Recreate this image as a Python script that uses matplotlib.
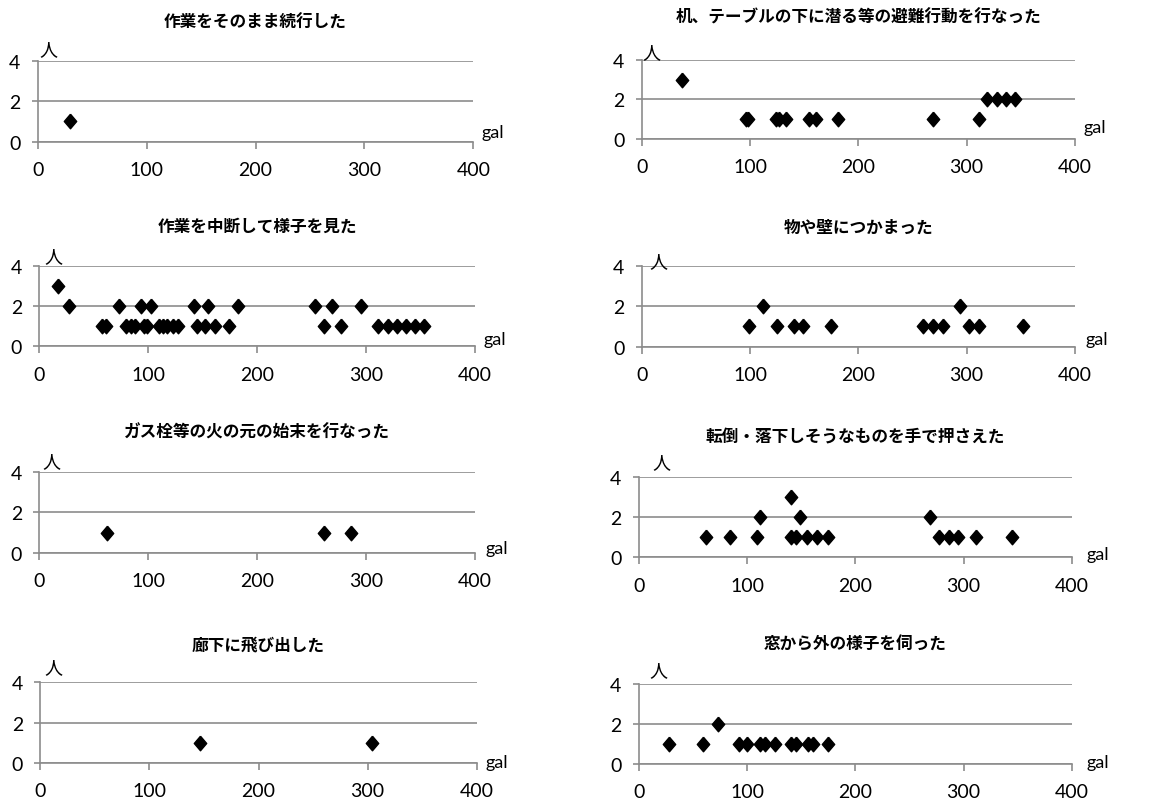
import matplotlib.pyplot as plt
from matplotlib.path import Path

# 行動別：最大加速度(gal)ごとの人数
titles = [
    '作業をそのまま続行した',
    '机、テーブルの下に潜る等の避難行動を行なった',
    '作業を中断して様子を見た',
    '物や壁につかまった',
    'ガス栓等の火の元の始末を行なった',
    '転倒・落下しそうなものを手で押さえた',
    '廊下に飛び出した',
    '窓から外の様子を伺った',
]

gal_1 = [30]
cnt_1 = [1]

gal_2 = [37, 96, 98, 124, 127, 133, 154, 161, 181, 269, 311, 319, 328, 336, 345]
cnt_2 = [3, 1, 1, 1, 1, 1, 1, 1, 1, 1, 1, 2, 2, 2, 2]

gal_3 = [17, 27, 73, 93, 103, 142, 155, 182, 253, 269, 295,
         58, 61, 80, 84, 88, 96, 99, 110, 114, 117, 123, 127, 145, 152, 161, 174,
         261, 277, 311, 320, 328, 337, 345, 353]
cnt_3 = [3, 2, 2, 2, 2, 2, 2, 2, 2, 2, 2,
         1, 1, 1, 1, 1, 1, 1, 1, 1, 1, 1, 1, 1, 1, 1, 1,
         1, 1, 1, 1, 1, 1, 1, 1]

gal_4 = [112, 294, 99, 125, 141, 149, 175, 260, 269, 278, 302, 311, 352]
cnt_4 = [2, 2, 1, 1, 1, 1, 1, 1, 1, 1, 1, 1, 1]

gal_5 = [62, 261, 286]
cnt_5 = [1, 1, 1]

gal_6 = [141, 112, 149, 269, 62, 84, 109, 141, 145, 155, 165, 175, 277, 286, 295, 311, 345]
cnt_6 = [3, 2, 2, 2, 1, 1, 1, 1, 1, 1, 1, 1, 1, 1, 1, 1, 1]

gal_7 = [146, 304]
cnt_7 = [1, 1]

gal_8 = [73, 28, 59, 93, 100, 112, 117, 126, 141, 145, 156, 161, 175]
cnt_8 = [2, 1, 1, 1, 1, 1, 1, 1, 1, 1, 1, 1, 1]

gals = [gal_1, gal_2, gal_3, gal_4, gal_5, gal_6, gal_7, gal_8]
cnts = [cnt_1, cnt_2, cnt_3, cnt_4, cnt_5, cnt_6, cnt_7, cnt_8]

W, H = 1174, 803
# plot area in pixels: x(0), x(400), y(4), y(0)
boxes = [
    (37.7, 473.3, 61.7, 142.7),
    (641.7, 1075.0, 60.7, 140.0),
    (39.3, 475.0, 266.7, 347.3),
    (641.7, 1075.0, 266.7, 347.7),
    (39.3, 475.0, 472.7, 554.0),
    (638.7, 1072.0, 478.3, 558.3),
    (40.3, 476.7, 683.3, 764.0),
    (638.7, 1072.0, 685.0, 765.0),
]
title_y = [23, 18, 227, 228, 433, 438, 645, 645]
nin_pos = [(0.024, 1.14), (0.023, 1.09), (0.032, 1.12), (0.038, 1.06),
           (0.028, 1.13), (0.053, 1.19), (0.031, 1.19), (0.045, 1.17)]
gal_pos = [(1.044, 0.12), (1.046, 0.15), (1.046, 0.09), (1.05, 0.10),
           (1.049, 0.06), (1.06, 0.04), (1.046, 0.01), (1.06, 0.02)]

grid_c = '#8c8c8c'
fonts = ['Lato', 'Noto Sans CJK JP']
diamond = Path([(0, 1), (0.85, 0), (0, -1), (-0.85, 0), (0, 1)])

fig = plt.figure(figsize=(W / 100, H / 100), dpi=100)

for i in range(8):
    x0, x1, y4, y0 = boxes[i]
    ax = fig.add_axes([x0 / W, (H - y0) / H, (x1 - x0) / W, (y0 - y4) / H])
    ax.plot(gals[i], cnts[i], linestyle='none', marker=diamond,
            markersize=10.5, color='black', clip_on=False, zorder=3)
    ax.set_xlim(0, 400)
    ax.set_ylim(0, 4)
    ax.set_xticks([0, 100, 200, 300, 400])
    ax.set_yticks([0, 2, 4])
    for s in ['top', 'right']:
        ax.spines[s].set_visible(False)
    ax.spines['left'].set_color(grid_c)
    ax.spines['bottom'].set_color(grid_c)
    ax.spines['left'].set_linewidth(1.2)
    ax.spines['bottom'].set_linewidth(1.2)
    ax.grid(axis='y', color=grid_c, linewidth=1.2)
    ax.set_axisbelow(True)
    ax.tick_params(axis='x', direction='out', length=5, width=1.2,
                   color=grid_c, pad=9, labelsize=14)
    ax.tick_params(axis='y', direction='out', length=4.5, width=1.2,
                   color=grid_c, pad=8, labelsize=14)
    for lab in ax.get_xticklabels() + ax.get_yticklabels():
        lab.set_family(fonts)
    ax.patch.set_visible(False)

    ax.text(nin_pos[i][0], nin_pos[i][1], '人', transform=ax.transAxes,
            ha='center', va='center', fontsize=13, family=fonts)
    ax.text(gal_pos[i][0], gal_pos[i][1], 'gal', transform=ax.transAxes,
            ha='center', va='center', fontsize=13, family=fonts)
    fig.text((x0 + x1) / 2 / W, 1 - title_y[i] / H, titles[i],
             ha='center', va='center', fontsize=12, fontweight='bold',
             family=['Noto Sans CJK JP', 'DejaVu Sans'])

fig.savefig('out.png', dpi=100, facecolor='white')
